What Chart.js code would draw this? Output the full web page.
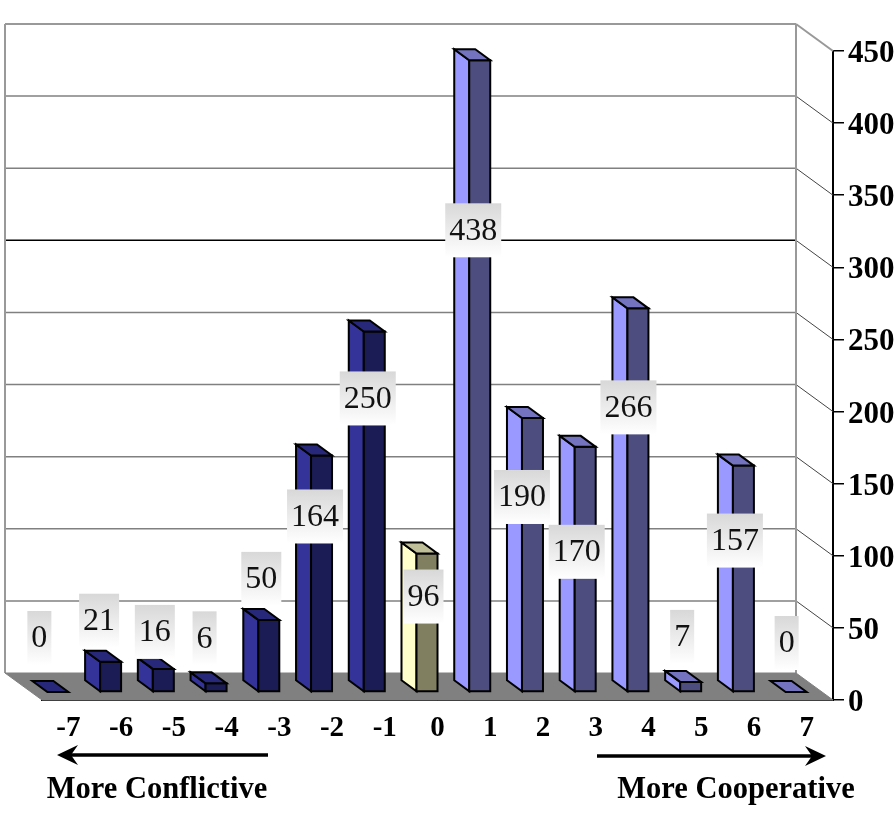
<!DOCTYPE html>
<html>
<head>
<meta charset="utf-8">
<style>
html, body { margin: 0; padding: 0; background: #fff; }
canvas { display: block; }
</style>
</head>
<body>
<canvas id="scoreChart" width="896" height="814"></canvas>
<script src="https://cdn.jsdelivr.net/npm/chart.js@4/dist/chart.umd.min.js"></script>
<script>
const categories = ["-7", "-6", "-5", "-4", "-3", "-2", "-1", "0", "1", "2", "3", "4", "5", "6", "7"];
const counts = [0, 21, 16, 6, 50, 164, 250, 96, 438, 190, 170, 266, 7, 157, 0];
const yTicks = [0, 50, 100, 150, 200, 250, 300, 350, 400, 450];
const leftCaption = "More Conflictive";
const rightCaption = "More Cooperative";

// label box placement, px from the front top right corner of each bar
const labelDx = [-29, -22, -19, -22, -18, -17, -17, -14, -17, -21, -19, -20, -19, -19, -20];
const labelDy = [-55, -42, -38, -46, -42, 60, 66, 42, 169, 78, 104, 98, -46, 74, -50];

const SERIF = '"Liberation Serif", "Times New Roman", serif';
const WALL_DX = 37, WALL_DY = 27, WALL_LEFT = 5;
const BAR_DX = 15, BAR_DY = 11, BAR_LIFT = 8;

function palette(cat) {
    const n = Number(cat);
    if (n < 0) return { side: "#333399", front: "#1b1b55", top: "#28287a" };
    if (n === 0) return { side: "#ffffcc", front: "#808060", top: "#bfbf99" };
    return { side: "#9999ff", front: "#4d4d80", top: "#7373bf" };
}

function poly(ctx, pts, fill) {
    ctx.beginPath();
    pts.forEach((p, i) => i ? ctx.lineTo(p[0], p[1]) : ctx.moveTo(p[0], p[1]));
    ctx.closePath();
    ctx.fillStyle = fill;
    ctx.fill();
    ctx.stroke();
}

function line(ctx, x1, y1, x2, y2, color, width) {
    ctx.beginPath();
    ctx.moveTo(x1, y1);
    ctx.lineTo(x2, y2);
    ctx.strokeStyle = color;
    ctx.lineWidth = width;
    ctx.stroke();
}

const wallPlugin = {
    id: "wall",
    beforeDatasetsDraw(chart) {
        const ctx = chart.ctx;
        const area = chart.chartArea;
        const y = chart.scales.y;
        const wallRight = area.right - WALL_DX;
        ctx.save();
        yTicks.forEach(v => {
            const py = y.getPixelForValue(v);
            const top = v === 450;
            if (v > 0) {
                line(ctx, WALL_LEFT, py - WALL_DY, wallRight, py - WALL_DY, v === 300 ? "#000" : (top ? "#999" : "#808080"), top ? 2 : 1.5);
                line(ctx, wallRight, py - WALL_DY, area.right, py, top ? "#999" : "#444", top ? 2 : 1);
            }
        });
        const topY = y.getPixelForValue(450) - WALL_DY;
        const floorY = area.bottom - WALL_DY;
        line(ctx, WALL_LEFT, topY, WALL_LEFT, floorY, "#999", 2);
        line(ctx, wallRight, topY, wallRight, floorY, "#999", 2);
        ctx.strokeStyle = "#808080";
        ctx.lineWidth = 1;
        poly(ctx, [[WALL_LEFT, floorY], [wallRight, floorY], [area.right, area.bottom], [area.left, area.bottom]], "#808080");
        ctx.restore();
    }
};

const prismPlugin = {
    id: "prism",
    beforeDatasetDraw(chart, args) {
        const ctx = chart.ctx;
        const bars = args.meta.data;
        ctx.save();
        ctx.strokeStyle = "#000";
        ctx.lineWidth = 2;
        bars.forEach((bar, i) => {
            const c = palette(categories[i]);
            const xr = bar.x;
            const xl = bar.x - bar.width;
            const yb = bar.base - BAR_LIFT;
            const yt = bar.y - BAR_LIFT;
            if (counts[i] > 0) {
                poly(ctx, [[xl - BAR_DX, yb - BAR_DY], [xl, yb], [xl, yt], [xl - BAR_DX, yt - BAR_DY]], c.side);
                poly(ctx, [[xl, yb], [xr, yb], [xr, yt], [xl, yt]], c.front);
            }
            poly(ctx, [[xl, yt], [xr, yt], [xr - BAR_DX, yt - BAR_DY], [xl - BAR_DX, yt - BAR_DY]], c.top);
        });
        ctx.restore();
        return false;
    },
    afterDatasetsDraw(chart) {
        const ctx = chart.ctx;
        const bars = chart.getDatasetMeta(0).data;
        ctx.save();
        ctx.font = "32px " + SERIF;
        ctx.textAlign = "center";
        ctx.textBaseline = "middle";
        bars.forEach((bar, i) => {
            const txt = String(counts[i]);
            const w = ctx.measureText(txt).width + 8;
            const cx = bar.x + labelDx[i];
            const cy = bar.y - BAR_LIFT + labelDy[i] + 1;
            const grad = ctx.createLinearGradient(0, cy - 27, 0, cy + 27);
            grad.addColorStop(0, "#d8d8d8");
            grad.addColorStop(1, "#ffffff");
            ctx.fillStyle = grad;
            ctx.fillRect(cx - w / 2, cy - 27, w, 54);
            ctx.fillStyle = "#111";
            ctx.fillText(txt, cx, cy + 1);
        });
        ctx.restore();
    }
};

function arrow(ctx, fromX, toX, y) {
    const dir = toX > fromX ? 1 : -1;
    line(ctx, fromX, y, toX - dir * 10, y, "#000", 3.5);
    ctx.beginPath();
    ctx.moveTo(toX, y);
    ctx.lineTo(toX - dir * 21, y - 10);
    ctx.lineTo(toX - dir * 14, y);
    ctx.lineTo(toX - dir * 21, y + 10);
    ctx.closePath();
    ctx.fillStyle = "#000";
    ctx.fill();
}

const captionPlugin = {
    id: "captions",
    afterDraw(chart) {
        const ctx = chart.ctx;
        const y = chart.scales.y;
        ctx.save();
        // y tick labels sit a little below their tick marks
        ctx.font = "bold 31px " + SERIF;
        ctx.textAlign = "left";
        ctx.textBaseline = "middle";
        ctx.fillStyle = "#000";
        yTicks.forEach(v => ctx.fillText(String(v), y.left + 15, y.getPixelForValue(v) + 3));
        arrow(ctx, 268, 57, 755);
        arrow(ctx, 597, 826, 756);
        ctx.font = "bold 30.5px " + SERIF;
        ctx.textAlign = "center";
        ctx.fillText(leftCaption, 157, 790);
        ctx.fillText(rightCaption, 736, 790);
        ctx.restore();
    }
};

new Chart(document.getElementById("scoreChart"), {
    type: "bar",
    data: {
        labels: categories,
        datasets: [{ data: counts, barThickness: 21 }]
    },
    plugins: [wallPlugin, prismPlugin, captionPlugin],
    options: {
        responsive: false,
        animation: false,
        layout: { padding: { left: 42, top: 51, right: 0, bottom: 0 } },
        plugins: { legend: { display: false }, tooltip: { enabled: false } },
        scales: {
            x: {
                grid: { drawOnChartArea: false, drawTicks: false },
                border: { color: "#000", width: 2 },
                afterFit(scale) { scale.height = 114; },
                ticks: {
                    autoSkip: false,
                    maxRotation: 0,
                    padding: 11,
                    color: "#000",
                    font: { family: SERIF, size: 29, weight: "bold" }
                }
            },
            y: {
                position: "right",
                min: 0,
                max: 450,
                afterFit(scale) { scale.width = 63; },
                afterBuildTicks(scale) { scale.ticks = yTicks.map(v => ({ value: v })); },
                grid: { drawOnChartArea: false, tickLength: 11, color: "#000", lineWidth: 1.5 },
                border: { color: "#000", width: 2 },
                ticks: { display: false }
            }
        }
    }
});
</script>
</body>
</html>
